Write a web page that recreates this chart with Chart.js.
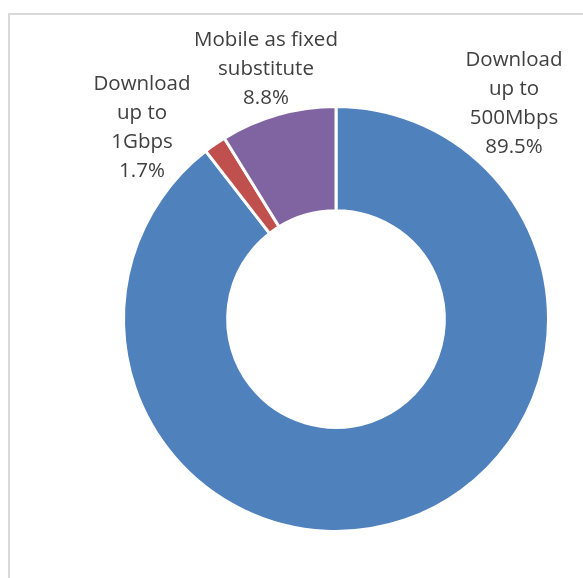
<!DOCTYPE html>
<html>
<head>
<meta charset="utf-8">
<script src="https://cdn.jsdelivr.net/npm/chart.js@4"></script>
<style>
  html, body { margin: 0; padding: 0; background: #fff; overflow: hidden; }
  #frame { position: absolute; left: 8px; top: 13px; width: 700px; height: 700px;
           border-left: 2px solid #d9d9d9; border-top: 2px solid #d9d9d9; }
  #wrap { position: absolute; left: 0; top: 0; width: 583px; height: 578px; }
</style>
</head>
<body>
<div id="frame"></div>
<div id="wrap"><canvas id="c"></canvas></div>
<script>
// Slice data, clockwise from 12 o'clock
const categories = ['Download up to 500Mbps', 'Download up to 1Gbps', 'Mobile as fixed substitute'];
const shares = [89.5, 1.7, 8.8];
const colors = ['#4f81bd', '#c0504d', '#8064a2'];
// Label text lines and where Excel put them
const labelLines = [
    ['Download', 'up to', '500Mbps', '89.5%'],
    ['Download', 'up to', '1Gbps', '1.7%'],
    ['Mobile as fixed', 'substitute', '8.8%']
];
const labelPos = [[514, 60], [142, 84], [266, 40]];

const labelPlugin = {
    id: 'sliceLabels',
    afterDatasetsDraw(chart) {
        const ctx = chart.ctx;
        ctx.save();
        ctx.font = '20.5px "Open Sans", sans-serif';
        ctx.fillStyle = '#404040';
        ctx.textAlign = 'center';
        ctx.textBaseline = 'middle';
        labelLines.forEach((lines, i) => {
            lines.forEach((t, j) => {
                ctx.fillText(t, labelPos[i][0], labelPos[i][1] + j * 29.2);
            });
        });
        ctx.restore();
    }
};

new Chart(document.getElementById('c'), {
    type: 'doughnut',
    data: {
        labels: categories,
        datasets: [{
            data: shares,
            backgroundColor: colors,
            borderColor: '#ffffff',
            borderWidth: 3
        }]
    },
    options: {
        responsive: true,
        maintainAspectRatio: false,
        animation: false,
        cutout: '51%',
        layout: { padding: { left: 122, right: 33, top: 105, bottom: 45 } },
        plugins: {
            legend: { display: false },
            tooltip: { enabled: false }
        }
    },
    plugins: [labelPlugin]
});
</script>
</body>
</html>
